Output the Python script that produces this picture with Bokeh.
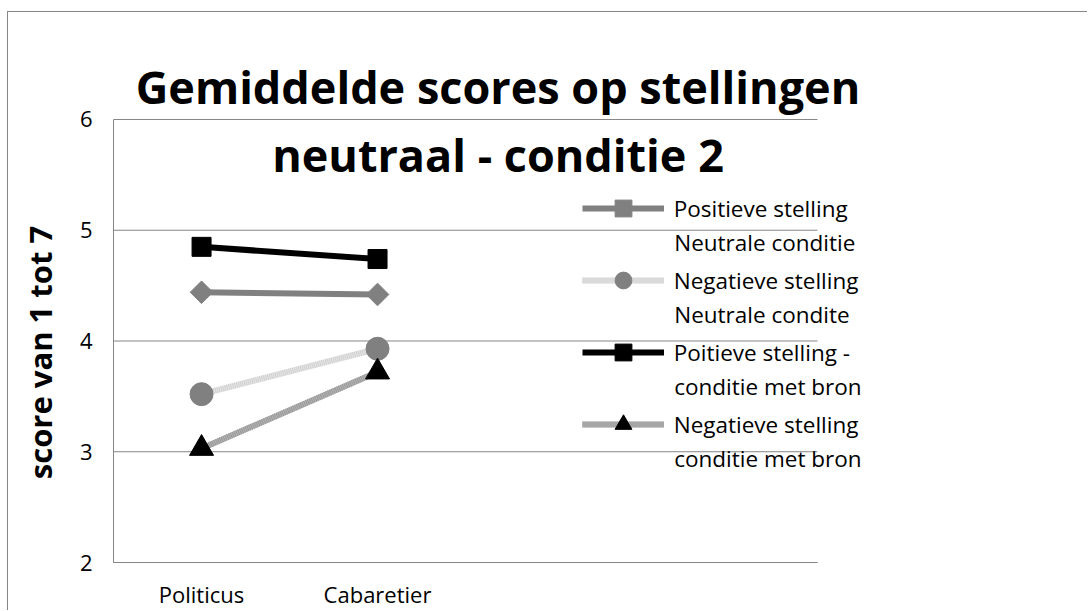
from bokeh.plotting import figure
from bokeh.models import Legend, LegendItem, Label, FixedTicker, Range1d
from bokeh.embed import file_html
from bokeh.resources import INLINE
import math

# ---- data ----
categories = ["Politicus", "Cabaretier"]
n_slots = 4
pos_neutraal = [4.44, 4.42]
neg_neutraal = [3.52, 3.93]
pos_bron = [4.85, 4.74]
neg_bron = [3.03, 3.72]
legend_line1 = ["Positieve stelling", "Negatieve stelling", "Poitieve stelling -", "Negatieve stelling"]
legend_line2 = ["Neutrale conditie", "Neutrale condite", "conditie met bron", "conditie met bron"]
y_ticks = [2, 3, 4, 5, 6]
title_lines = ["Gemiddelde scores op stellingen", "neutraal - conditie 2"]
y_label = "score van 1 tot 7"

FONT = "Open Sans"
GRID = "#868686"

x = [i + 0.5 for i in range(len(categories))]

# frame covers the whole figure; the plot area proper is x in [0, n_slots], y in [2, 6]
p = figure(width=1080, height=599, output_backend="svg", toolbar_location=None,
           x_range=Range1d(-0.597, 5.540), y_range=Range1d(1.5576, 6.966),
           min_border_left=0, min_border_right=0, min_border_top=0, min_border_bottom=0)
p.styles = {"margin-left": "7px", "margin-top": "11px",
            "border-top": "1px solid #868686", "border-left": "1px solid #868686"}
p.outline_line_color = None
p.xgrid.visible = False
p.ygrid.visible = False

# horizontal gridlines across the plot area only
p.segment(x0=[0] * len(y_ticks), x1=[n_slots] * len(y_ticks), y0=y_ticks, y1=y_ticks,
          line_color=GRID, line_width=1)

p.yaxis.ticker = FixedTicker(ticks=y_ticks)
p.yaxis.bounds = (y_ticks[0], y_ticks[-1])
p.yaxis.fixed_location = 0
p.xaxis.ticker = FixedTicker(ticks=x)
p.xaxis.bounds = (0, n_slots)
p.xaxis.fixed_location = y_ticks[0]
p.xaxis.major_label_overrides = {xv: c for xv, c in zip(x, categories)}
for ax in (p.xaxis, p.yaxis):
    ax.axis_line_color = GRID
    ax.major_tick_line_color = None
    ax.minor_tick_line_color = None
    ax.major_tick_out = 0
    ax.major_tick_in = 0
    ax.major_label_text_font = FONT
    ax.major_label_text_font_size = "22px"
    ax.major_label_text_color = "#000000"
p.yaxis.major_label_standoff = 21
p.xaxis.major_label_standoff = 16

LW = 6
r1l = p.line(x, pos_neutraal, line_color="#808080", line_width=LW)
r1m = p.scatter(x, pos_neutraal, marker="square", angle=math.pi / 4, size=16,
                fill_color="#808080", line_color="#808080")
r2a = p.line(x, neg_neutraal, line_color="#e6e6e6", line_width=LW)
r2b = p.line(x, neg_neutraal, line_color="#cfcfcf", line_width=LW, line_dash="1 1")
r2m = p.scatter(x, neg_neutraal, marker="circle", size=23,
                fill_color="#808080", line_color="#808080")
r3l = p.line(x, pos_bron, line_color="#000000", line_width=LW)
r3m = p.scatter(x, pos_bron, marker="square", size=19,
                fill_color="#000000", line_color="#000000")
r4a = p.line(x, neg_bron, line_color="#b4b4b4", line_width=LW)
r4b = p.line(x, neg_bron, line_color="#989898", line_width=LW, line_dash="1 1")
r4m = p.scatter(x, neg_bron, marker="triangle", size=24,
                fill_color="#000000", line_color="#000000")

# layout geometry (screen px; frame spans the whole figure)
FRAME_TOP, FRAME_LEFT, FRAME_H = 12, 8, 599
FRAME_BOTTOM = FRAME_TOP + FRAME_H
LEG_X = 581.7 - FRAME_LEFT
GLYPH_W, GLYPH_H, SPACING, STANDOFF = 82, 42, 30, 10
first_center_from_top = 208 - FRAME_TOP
n_items = len(legend_line1)
leg_h = n_items * GLYPH_H + (n_items - 1) * SPACING
leg_top = first_center_from_top - GLYPH_H / 2
LEG_Y = FRAME_H - (leg_top + leg_h)

groups = [[r1l, r1m], [r2a, r2b, r2m], [r3l, r3m], [r4a, r4b, r4m]]
legend = Legend(items=[LegendItem(label=l, renderers=g) for l, g in zip(legend_line1, groups)],
                location=(LEG_X, LEG_Y), background_fill_alpha=0, border_line_color=None,
                glyph_width=GLYPH_W, glyph_height=GLYPH_H, label_standoff=STANDOFF,
                spacing=SPACING, padding=0, margin=0,
                label_text_font=FONT, label_text_font_size="22.5px", label_text_color="#000000")
p.add_layout(legend)

for i, t in enumerate(legend_line2):
    cy = first_center_from_top + i * (GLYPH_H + SPACING) + 34
    p.add_layout(Label(x=LEG_X + GLYPH_W + STANDOFF, y=FRAME_H - cy, x_units="screen", y_units="screen",
                       text=t, text_align="left", text_baseline="middle",
                       text_font=FONT, text_font_size="22.5px", text_color="#000000"))

# y axis title (vertical)
p.add_layout(Label(x=39 - FRAME_LEFT, y=FRAME_BOTTOM - 352, x_units="screen", y_units="screen", text=y_label,
                   angle=math.pi / 2, text_align="center", text_baseline="middle",
                   text_font=FONT, text_font_style="bold", text_font_size="31px", text_color="#000000"))

# chart title (two lines)
for i, t in enumerate(title_lines):
    p.add_layout(Label(x=497.5 - FRAME_LEFT, y=FRAME_BOTTOM - 86 - 68 * i, x_units="screen", y_units="screen",
                       text=t, text_align="center", text_baseline="alphabetic",
                       text_font=FONT, text_font_style="bold", text_font_size="45px",
                       text_color="#000000"))

open("out.html", "w").write(file_html(p, INLINE))
